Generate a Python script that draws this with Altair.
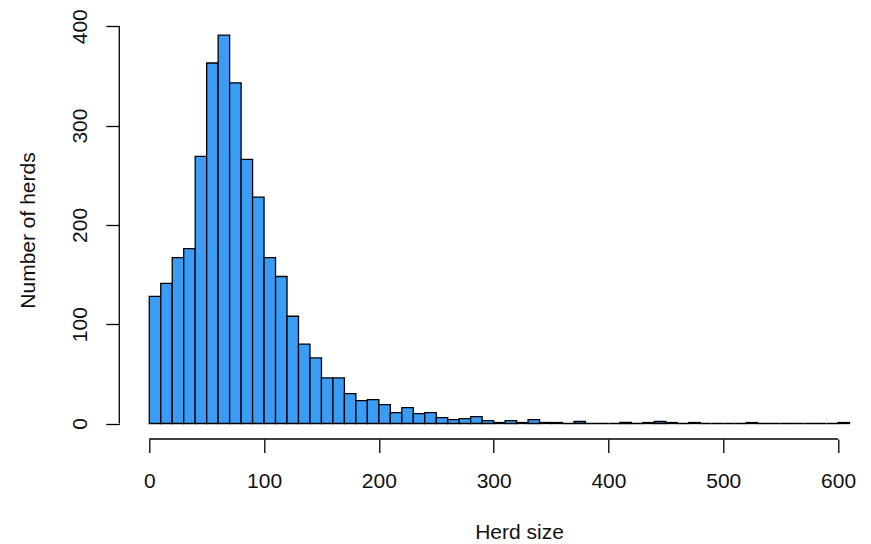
import altair as alt
import pandas as pd

# Histogram of herd sizes, bins of width 10 from 0 to 610
bin_start = list(range(0, 610, 10))
counts = [
    128, 141, 167, 176, 269, 363, 391, 343, 266, 228,   # 0-99
    167, 148, 108, 80, 66, 46, 46, 30, 23, 24,          # 100-199
    19, 11, 16, 10, 11, 6, 4, 5, 7, 3,                  # 200-299
    1, 3, 1, 4, 1, 1, 0, 2, 0, 0,                       # 300-399
    0, 1, 0, 1, 2, 1, 0, 1, 0, 0,                       # 400-499
    0, 0, 1, 0, 0, 0, 0, 0, 0, 0,                       # 500-599
    1,                                                  # 600-609
]
x_ticks = [0, 100, 200, 300, 400, 500, 600]
y_ticks = [0, 100, 200, 300, 400]

df = pd.DataFrame({
    "start": bin_start,
    "end": [b + 10 for b in bin_start],
    "count": counts,
    "base": [0] * len(bin_start),
})

W, H = 751, 420
FONT = "Liberation Sans"
FS = 21
BAR = "#3a9cf4"

xscale = alt.Scale(domain=[-26.1, 628.1], nice=False, zero=False)
yscale = alt.Scale(domain=[-15.6, 407.3], nice=False, zero=False)

x_axis = alt.Axis(
    values=x_ticks, title="Herd size", domain=False, grid=False,
    tickSize=13.5, tickWidth=1.3, tickColor="black",
    labelFont=FONT, labelFontSize=FS, labelColor="#111",
    labelBaseline="alphabetic", labelPadding=35, labelFlush=False,
    labelOverlap=False, labelAlign="center",
    titleFont=FONT, titleFontSize=FS, titleFontWeight="normal", titleColor="#111",
    titleX=399.7, titleY=100, titleBaseline="alphabetic", titleAlign="center",
    titleAngle=0,
)
y_axis = alt.Axis(
    values=y_ticks, title="Number of herds", domain=False, grid=False,
    tickSize=13.5, tickWidth=1.3, tickColor="black",
    labelFont=FONT, labelFontSize=FS, labelColor="#111",
    labelAngle=270, labelAlign="center", labelBaseline="alphabetic",
    labelPadding=19, labelFlush=False, labelOverlap=False,
    titleFont=FONT, titleFontSize=FS, titleFontWeight="normal", titleColor="#111",
    titleAngle=270, titleX=-84.3, titleY=211, titleAlign="center",
    titleBaseline="alphabetic",
)

bars = alt.Chart(df).mark_rect(fill=BAR, stroke="black", strokeWidth=1.3).encode(
    x=alt.X("start:Q", scale=xscale, axis=x_axis, title="Herd size"),
    x2="end:Q",
    y=alt.Y("count:Q", scale=yscale, axis=y_axis, title="Number of herds"),
    y2="base:Q",
)

xline_df = pd.DataFrame({"start": [x_ticks[0]], "end": [x_ticks[-1]]})
yline_df = pd.DataFrame({"count": [y_ticks[0]], "base": [y_ticks[-1]]})

xline = alt.Chart(xline_df).mark_rule(color="black", strokeWidth=1.3).encode(
    x=alt.X("start:Q", scale=xscale, axis=x_axis, title="Herd size"),
    x2="end:Q",
    y=alt.value(H),
)
yline = alt.Chart(yline_df).mark_rule(color="black", strokeWidth=1.3).encode(
    y=alt.Y("count:Q", scale=yscale, axis=y_axis, title="Number of herds"),
    y2="base:Q",
    x=alt.value(0),
)

chart = alt.layer(bars, xline, yline).properties(
    width=W, height=H,
    background="white",
    autosize=alt.AutoSizeParams(type="none"),
    padding={"left": 119.3, "top": 19, "right": 0, "bottom": 105},
).configure_view(strokeWidth=0, stroke="transparent")

chart.save("out.html", embed_options={"renderer": "svg", "actions": False})
